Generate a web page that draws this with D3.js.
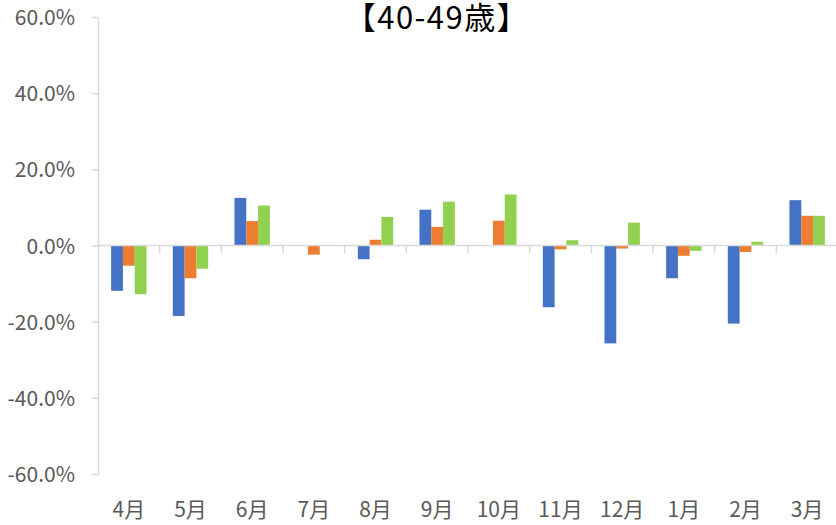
<!DOCTYPE html>
<html>
<head>
<meta charset="utf-8">
<script src="https://cdn.jsdelivr.net/npm/d3@7"></script>
<style>
  body { margin: 0; background: #fff; }
  text { font-family: "Noto Sans CJK JP", "Noto Sans", sans-serif; }
</style>
</head>
<body>
<svg width="836" height="525"></svg>
<script>
// data
var months = ["4月", "5月", "6月", "7月", "8月", "9月", "10月", "11月", "12月", "1月", "2月", "3月"];
var seriesA = [-11.9, -18.5, 12.5, 0, -3.6, 9.4, 0, -16.2, -25.7, -8.6, -20.5, 11.9];
var seriesB = [-5.3, -8.6, 6.4, -2.4, 1.5, 4.9, 6.5, -1.0, -0.8, -2.7, -1.7, 7.8];
var seriesC = [-12.8, -6.1, 10.5, 0, 7.5, 11.5, 13.4, 1.4, 6.0, -1.4, 1.0, 7.8];
var yTicks = [-60, -40, -20, 0, 20, 40, 60];
var colors = ["#4472C4", "#ED7D31", "#92D050"];

var svg = d3.select("svg");

var x = d3.scaleBand()
    .domain(months)
    .range([98, 838]);

var y = d3.scaleLinear()
    .domain([-60, 60])
    .range([474, 17]);

// inner band for the 3 bars of one month
var barW = 11.8;
var xs = d3.scaleBand()
    .domain([0, 1, 2])
    .range([0, barW * 3]);

var all = [seriesA, seriesB, seriesC];

// bars
all.forEach(function(vals, s) {
    svg.append("g").selectAll("rect")
      .data(vals)
      .enter().append("rect")
      .attr("x", function(d, i) { return x(months[i]) + (x.bandwidth() - barW * 3) / 2 + xs(s); })
      .attr("y", function(d) { return y(Math.max(0, d)); })
      .attr("width", xs.bandwidth())
      .attr("height", function(d) { return Math.abs(y(d) - y(0)); })
      .attr("fill", colors[s]);
});

// y axis
var yAxis = d3.axisLeft(y)
    .tickValues(yTicks)
    .tickSize(6)
    .tickSizeOuter(0)
    .tickFormat(function(d) { return d.toFixed(1) + "%"; });

var gy = svg.append("g")
    .attr("transform", "translate(98,0)")
    .call(yAxis);
gy.select(".domain").attr("stroke", "#d9d9d9").attr("stroke-width", 1.5);
gy.selectAll(".tick line").attr("stroke", "#d9d9d9").attr("stroke-width", 1.5);
gy.selectAll(".tick text")
    .attr("x", -23)
    .attr("dy", "0.36em")
    .attr("fill", "#595959")
    .style("font-size", "21px")
    .style("font-family", "'Noto Sans CJK JP', sans-serif");

// zero line with ticks between months
svg.append("line")
    .attr("x1", 98).attr("x2", 836)
    .attr("y1", y(0)).attr("y2", y(0))
    .attr("stroke", "#d9d9d9")
    .attr("stroke-width", 1.5);

svg.append("g").selectAll("line")
    .data(months)
    .enter().append("line")
    .attr("x1", function(d) { return x(d) + x.bandwidth(); })
    .attr("x2", function(d) { return x(d) + x.bandwidth(); })
    .attr("y1", y(0))
    .attr("y2", y(0) + 8)
    .attr("stroke", "#d9d9d9")
    .attr("stroke-width", 1.5);

// month labels
svg.append("g").selectAll("text")
    .data(months)
    .enter().append("text")
    .attr("x", function(d) { return x(d) + x.bandwidth() / 2; })
    .attr("y", 517)
    .attr("text-anchor", "middle")
    .attr("fill", "#595959")
    .style("font-size", "21px")
    .text(function(d) { return d; });

// title
svg.append("text")
    .attr("x", 437)
    .attr("y", 29)
    .attr("text-anchor", "middle")
    .attr("fill", "#000")
    .style("font-size", "31px")
    .style("letter-spacing", "1.5px")
    .text("【40-49歳】");
</script>
</body>
</html>
